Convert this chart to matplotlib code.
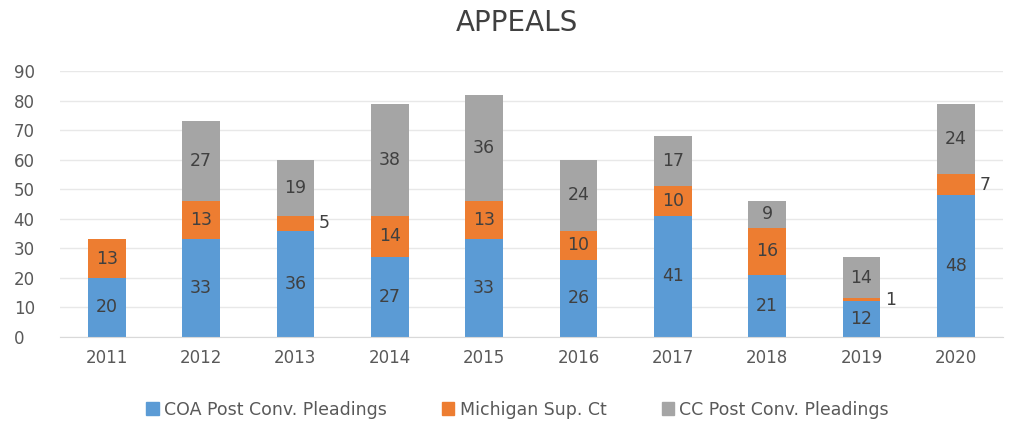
import numpy as np
import matplotlib.pyplot as plt
from matplotlib.patches import Patch

years = ["2011", "2012", "2013", "2014", "2015", "2016", "2017", "2018", "2019", "2020"]
coa = [20, 33, 36, 27, 33, 26, 41, 21, 12, 48]
michigan = [13, 13, 5, 14, 13, 10, 10, 16, 1, 7]
cc = [0, 27, 19, 38, 36, 24, 17, 9, 14, 24]

series_names = ["COA Post Conv. Pleadings", "Michigan Sup. Ct", "CC Post Conv. Pleadings"]
colors = ["#5B9BD5", "#ED7D31", "#A5A5A5"]

fig = plt.figure(figsize=(10.09, 4.21), dpi=100)
ax = fig.add_axes([0.059, 0.2, 0.935, 0.631])

x = np.arange(len(years))
width = 0.4
bottom = np.zeros(len(years))
for vals, col in zip([coa, michigan, cc], colors):
    vals = np.array(vals)
    ax.bar(x, vals, width, bottom=bottom, color=col, zorder=2)
    for xi, b, v in zip(x, bottom, vals):
        if v == 0:
            continue
        if v < 8:
            # small segments get their label beside the bar
            ax.text(xi + width / 2 + 0.05, b + v / 2, str(v), ha="left", va="center",
                    fontsize=12.5, color="#404040")
        else:
            ax.text(xi, b + v / 2, str(v), ha="center", va="center",
                    fontsize=12.5, color="#404040")
    bottom += vals

ax.set_xlim(-0.5, len(years) - 0.5)
ax.set_ylim(0, 90)
ax.set_yticks(range(0, 91, 10))
ax.set_xticks(x)
ax.set_xticklabels(years)
ax.tick_params(axis="both", length=0, labelsize=12, colors="#595959")
ax.tick_params(axis="x", pad=9)
ax.tick_params(axis="y", pad=33)
for lbl in ax.get_yticklabels():
    lbl.set_horizontalalignment("left")
ax.grid(axis="y", color="#E8E8E8", linewidth=1, zorder=0)
for s in ["top", "right", "left"]:
    ax.spines[s].set_visible(False)
ax.spines["bottom"].set_color("#D9D9D9")

fig.text(0.512, 0.945, "APPEALS", ha="center", va="center", fontsize=20, color="#404040")

handles = [Patch(facecolor=c, edgecolor=c) for c in colors]
fig.legend(handles, series_names, loc="center", bbox_to_anchor=(0.513, 0.027), ncol=3,
           frameon=False, fontsize=12.5, handlelength=0.7, handleheight=0.7,
           handletextpad=0.3, columnspacing=3.2, labelcolor="#595959")

fig.savefig("out.png", dpi=100)
